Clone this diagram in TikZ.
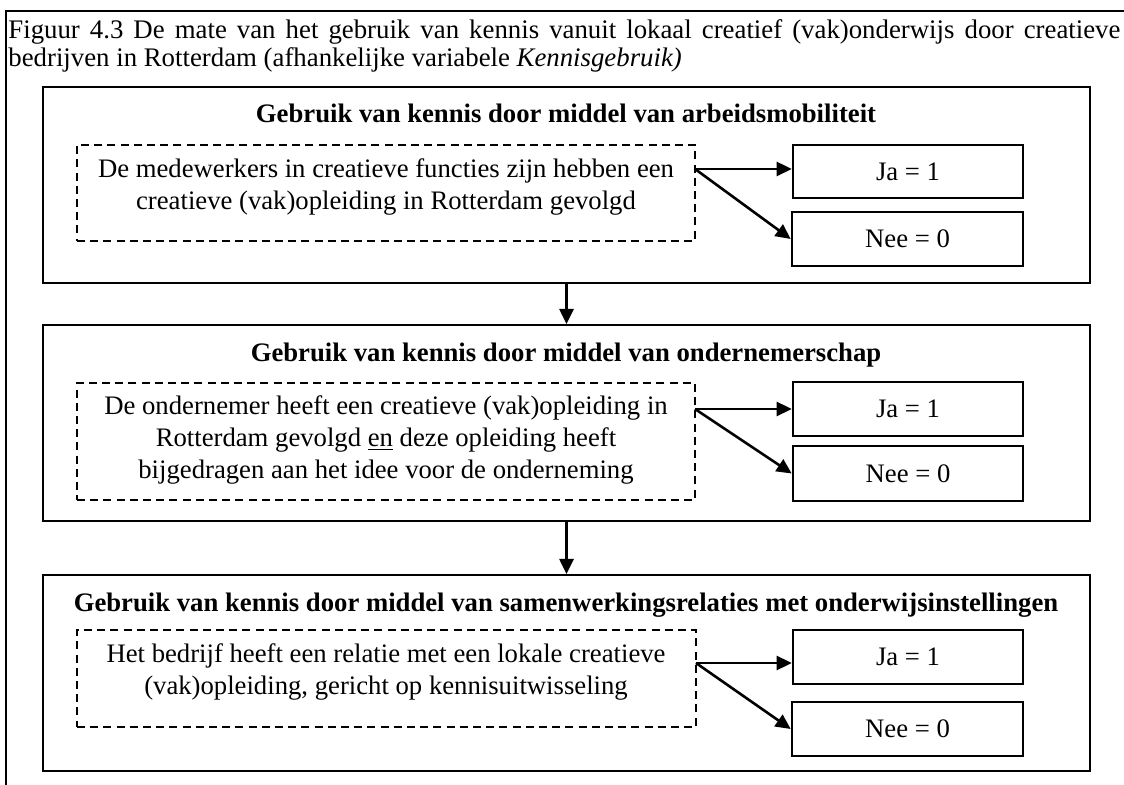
\documentclass[tikz,border=0pt]{standalone}
\usepackage{fontspec}
\setmainfont{Liberation Serif}
\usetikzlibrary{arrows.meta,fit}

\begin{document}
\begin{tikzpicture}[x=0.5pt,y=-0.5pt,
  box/.style={fit=#1, inner sep=0pt},
  panel/.style={draw, line width=1pt},
  cond/.style={draw, dash pattern=on 4pt off 2.6pt, line width=0.75pt},
  answer/.style={draw, line width=1.3pt},
  answertext/.style={font=\fontsize{13.35}{16}\selectfont, inner sep=0pt},
  body/.style={font=\fontsize{13.35}{16}\selectfont, align=center, inner sep=0pt},
  heading/.style={font=\fontsize{13.35}{16}\selectfont\bfseries, inner sep=0pt, anchor=base},
  flow/.style={-{Triangle[length=7.5pt,width=7pt]}, line width=1.3pt},
]
\useasboundingbox (0,0) rectangle (1124,785);

% frame of the figure
\draw[line width=1pt] (6,785) -- (6,11) -- (1124,11);

% caption
\node[anchor=north west, inner sep=0pt, text width=556pt, align=justify,
      font=\fontsize{13.4}{14}\selectfont] (cap) at (8,19)
  {\hyphenpenalty=10000 Figuur 4.3 De mate van het gebruik van kennis vanuit lokaal creatief (vak)onderwijs door creatieve\linebreak
   bedrijven in Rotterdam (afhankelijke variabele \textit{Kennisgebruik)}};

% corner points of the boxes
\path (43,87) coordinate (p1a) (1090,283) coordinate (p1b)
      (43,325) coordinate (p2a) (1090,521) coordinate (p2b)
      (43,575) coordinate (p3a) (1090,771) coordinate (p3b)
      (77,145) coordinate (d1a) (695,241) coordinate (d1b)
      (77,383) coordinate (d2a) (695,500) coordinate (d2b)
      (77,630) coordinate (d3a) (696,727) coordinate (d3b)
      (793,145) coordinate (j1a) (1023,198) coordinate (j1b)
      (792,212) coordinate (n1a) (1023,266) coordinate (n1b)
      (793,382) coordinate (j2a) (1023,436) coordinate (j2b)
      (793,446) coordinate (n2a) (1023,501) coordinate (n2b)
      (793,630) coordinate (j3a) (1023,684) coordinate (j3b)
      (792,702) coordinate (n3a) (1023,756) coordinate (n3b);

% outer panels
\node[panel, box=(p1a)(p1b)] (p1) {};
\node[panel, box=(p2a)(p2b)] (p2) {};
\node[panel, box=(p3a)(p3b)] (p3) {};

% panel headings
\node[heading] (h1) at (566,123) {Gebruik van kennis door middel van arbeidsmobiliteit};
\node[heading] (h2) at (566,362) {Gebruik van kennis door middel van ondernemerschap};
\node[heading] (h3) at (566,611) {Gebruik van kennis door middel van samenwerkingsrelaties met onderwijsinstellingen};

% conditions
\node[cond, box=(d1a)(d1b)] (d1) {};
\node[cond, box=(d2a)(d2b)] (d2) {};
\node[cond, box=(d3a)(d3b)] (d3) {};
\node[body] (t1) at (386,187) {De medewerkers in creatieve functies zijn hebben een\\ creatieve (vak)opleiding in Rotterdam gevolgd};
\node[body] (t2) at (386,440) {De ondernemer heeft een creatieve (vak)opleiding in\\ Rotterdam gevolgd \underline{en} deze opleiding heeft\\ bijgedragen aan het idee voor de onderneming};
\node[body] (t3) at (386,672) {Het bedrijf heeft een relatie met een lokale creatieve\\ (vak)opleiding, gericht op kennisuitwisseling};

% answers
\node[answer, box=(j1a)(j1b), label={[answertext]center:{Ja = 1}}] (j1) {};
\node[answer, box=(n1a)(n1b), label={[answertext]center:{Nee = 0}}] (n1) {};
\node[answer, box=(j2a)(j2b), label={[answertext]center:{Ja = 1}}] (j2) {};
\node[answer, box=(n2a)(n2b), label={[answertext]center:{Nee = 0}}] (n2) {};
\node[answer, box=(j3a)(j3b), label={[answertext]center:{Ja = 1}}] (j3) {};
\node[answer, box=(n3a)(n3b), label={[answertext]center:{Nee = 0}}] (n3) {};

% branch points on the condition boxes
\coordinate (s1) at (695,169);
\coordinate (s2) at (695,409);
\coordinate (s3) at (696,663);

\draw[flow] (s1) -- (s1 -| j1.west);
\draw[flow] (s1) -- (n1.west);
\draw[flow] (s2) -- (s2 -| j2.west);
\draw[flow] (s2) -- (n2.west);
\draw[flow] (s3) -- (s3 -| j3.west);
\draw[flow] (s3) -- (n3.west);

% flow between panels
\draw[flow] (p1.south) -- (p2.north);
\draw[flow] (p2.south) -- (p3.north);
\end{tikzpicture}
\end{document}
